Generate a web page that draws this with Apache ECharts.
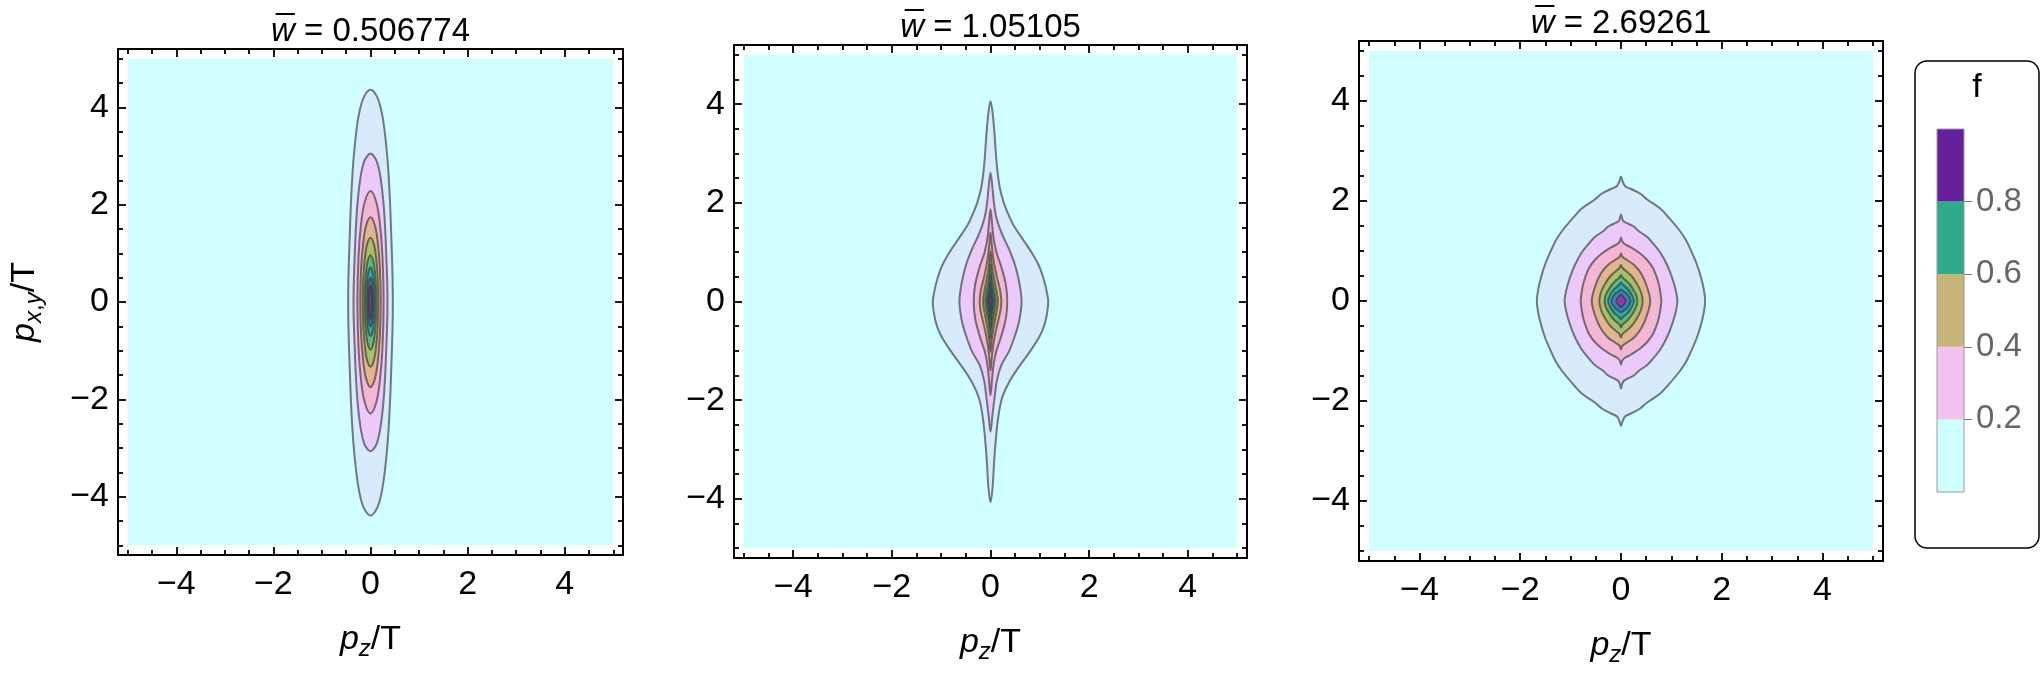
<!DOCTYPE html>
<html><head><meta charset="utf-8">
<script src="https://cdn.jsdelivr.net/npm/echarts@6/dist/echarts.min.js"></script>
<style>html,body{margin:0;padding:0;background:#fff}#c{width:2042px;height:680px}</style>
</head><body><div id="c"></div>
<script>
// ---------------- data ----------------
const titleValues = ['0.506774', '1.05105', '2.69261'];
const contourLevels = [0.1, 0.2, 0.3, 0.4, 0.5, 0.6, 0.7, 0.8, 0.9];
const levelColors = ['#D7EBFC', '#EBCAFA', '#F3B6D5', '#E1B590', '#A9BF69', '#60B980', '#2BAFA7', '#3E7EC6', '#8A40A0'];
const domainRange = [-5, 5];
const domainColor = '#D1FFFF';
const majorTicks = [-4, -2, 0, 2, 4];
const minorTicks = [-5, -4.5, -3.5, -3, -2.5, -1.5, -1, -0.5, 0.5, 1, 1.5, 2.5, 3, 3.5, 4.5, 5];
const legendBounds = [0, 0.2, 0.4, 0.6, 0.8, 1];
const legendColors = ['#D0FFFF', '#F4C2EE', '#C6B479', '#2FAA8C', '#651F9B'];
const legendTicks = [0.2, 0.4, 0.6, 0.8];

// right halves (pz >= 0) of each contour, from top tip to bottom tip: [pz, pxy]
const contoursW1 = [
  [[0,4.36],[0.1,4.28],[0.18,4.1],[0.25,3.8],[0.31,3.35],[0.36,2.8],[0.4,2.1],[0.43,1.3],[0.455,0.5],[0.46,0],[0.455,-0.5],[0.43,-1.3],[0.4,-2.1],[0.36,-2.8],[0.31,-3.35],[0.25,-3.8],[0.18,-4.12],[0.1,-4.3],[0,-4.39]],
  [[0,3.05],[0.076,2.99],[0.137,2.87],[0.19,2.66],[0.236,2.34],[0.274,1.96],[0.304,1.47],[0.327,0.91],[0.346,0.35],[0.35,0],[0.346,-0.35],[0.327,-0.91],[0.304,-1.47],[0.274,-1.96],[0.236,-2.35],[0.19,-2.67],[0.137,-2.89],[0.076,-3.01],[0,-3.07]],
  [[0,2.28],[0.12,2.05],[0.195,1.6],[0.248,0.91],[0.27,0],[0.248,-0.92],[0.195,-1.6],[0.12,-2.06],[0,-2.29]],
  [[0,1.74],[0.092,1.57],[0.15,1.22],[0.193,0.7],[0.21,0],[0.193,-0.7],[0.15,-1.22],[0.092,-1.57],[0,-1.75]],
  [[0,1.32],[0.07,1.19],[0.115,0.92],[0.147,0.53],[0.16,0],[0.147,-0.53],[0.115,-0.93],[0.07,-1.2],[0,-1.33]],
  [[0,0.96],[0.053,0.86],[0.086,0.67],[0.11,0.38],[0.12,0],[0.11,-0.39],[0.086,-0.68],[0.053,-0.88],[0,-0.98]],
  [[0,0.71],[0.037,0.64],[0.061,0.5],[0.078,0.28],[0.085,0],[0.078,-0.28],[0.061,-0.49],[0.037,-0.63],[0,-0.7]],
  [[0,0.5],[0.024,0.45],[0.039,0.35],[0.05,0.2],[0.055,0],[0.05,-0.2],[0.039,-0.35],[0.024,-0.45],[0,-0.5]],
  [[0,0.35],[0.013,0.31],[0.021,0.24],[0.028,0.14],[0.03,0],[0.028,-0.14],[0.021,-0.24],[0.013,-0.31],[0,-0.35]]
];
const contoursW2 = [
  [[0,4.06],[0.04,3.85],[0.08,3.42],[0.13,2.75],[0.19,2.3],[0.27,2.0],[0.37,1.75],[0.47,1.54],[0.65,1.27],[0.83,1.0],[0.98,0.73],[1.08,0.45],[1.14,0.2],[1.17,0],[1.15,-0.22],[1.1,-0.45],[1.01,-0.68],[0.83,-0.97],[0.6,-1.29],[0.38,-1.63],[0.23,-1.97],[0.15,-2.4],[0.1,-2.9],[0.07,-3.31],[0.04,-3.8],[0,-4.07]],
  [[0,2.61],[0.04,2.3],[0.07,2.0],[0.12,1.7],[0.22,1.4],[0.38,1.05],[0.5,0.73],[0.58,0.4],[0.62,0.15],[0.63,0],[0.62,-0.15],[0.58,-0.4],[0.52,-0.62],[0.38,-1.0],[0.22,-1.29],[0.13,-1.6],[0.08,-1.97],[0.04,-2.3],[0,-2.64]],
  [[0,1.87],[0.03,1.6],[0.06,1.3],[0.12,1.0],[0.22,0.7],[0.31,0.35],[0.34,0],[0.31,-0.35],[0.22,-0.7],[0.12,-1.0],[0.06,-1.3],[0.03,-1.6],[0,-1.9]],
  [[0,1.4],[0.025,1.15],[0.06,0.85],[0.13,0.5],[0.2,0.2],[0.22,0],[0.2,-0.2],[0.13,-0.5],[0.06,-0.85],[0.025,-1.15],[0,-1.4]],
  [[0,1.02],[0.02,0.82],[0.05,0.6],[0.1,0.33],[0.15,0],[0.1,-0.33],[0.05,-0.6],[0.02,-0.82],[0,-1.02]],
  [[0,0.75],[0.015,0.6],[0.035,0.43],[0.075,0.22],[0.105,0],[0.075,-0.22],[0.035,-0.43],[0.015,-0.6],[0,-0.75]],
  [[0,0.54],[0.012,0.43],[0.025,0.3],[0.05,0.15],[0.07,0],[0.05,-0.15],[0.025,-0.3],[0.012,-0.43],[0,-0.54]],
  [[0,0.36],[0.008,0.28],[0.017,0.2],[0.033,0.1],[0.045,0],[0.033,-0.1],[0.017,-0.2],[0.008,-0.28],[0,-0.36]],
  [[0,0.2],[0.005,0.16],[0.01,0.11],[0.019,0.05],[0.025,0],[0.019,-0.05],[0.01,-0.11],[0.005,-0.16],[0,-0.2]]
];
const contoursW3 = [
  [[0,2.49],[0.03,2.4],[0.08,2.3],[0.2,2.24],[0.38,2.15],[0.52,2.03],[0.78,1.85],[0.92,1.7],[1.17,1.4],[1.3,1.2],[1.38,1.03],[1.5,0.75],[1.58,0.5],[1.64,0.25],[1.67,0],[1.64,-0.25],[1.58,-0.5],[1.5,-0.75],[1.38,-1.03],[1.3,-1.2],[1.17,-1.4],[0.92,-1.7],[0.78,-1.85],[0.52,-2.03],[0.38,-2.15],[0.2,-2.25],[0.08,-2.31],[0.03,-2.41],[0,-2.5]],
  [[0,1.73],[0.02,1.66],[0.054,1.59],[0.134,1.55],[0.255,1.49],[0.35,1.4],[0.52,1.28],[0.62,1.17],[0.78,0.97],[0.92,0.71],[1.02,0.45],[1.09,0.2],[1.12,0],[1.09,-0.2],[1.02,-0.45],[0.92,-0.71],[0.78,-0.97],[0.62,-1.17],[0.52,-1.28],[0.35,-1.4],[0.255,-1.49],[0.134,-1.55],[0.054,-1.6],[0.02,-1.67],[0,-1.75]],
  [[0,1.27],[0.02,1.2],[0.07,1.14],[0.2,1.07],[0.38,0.95],[0.52,0.82],[0.64,0.65],[0.74,0.38],[0.78,0.18],[0.8,0],[0.78,-0.18],[0.74,-0.38],[0.64,-0.65],[0.52,-0.82],[0.38,-0.95],[0.2,-1.07],[0.07,-1.14],[0.02,-1.2],[0,-1.27]],
  [[0,0.95],[0.03,0.88],[0.12,0.82],[0.26,0.72],[0.4,0.55],[0.51,0.3],[0.58,0],[0.51,-0.3],[0.4,-0.55],[0.26,-0.73],[0.12,-0.83],[0.03,-0.89],[0,-0.97]],
  [[0,0.72],[0.03,0.66],[0.1,0.6],[0.21,0.5],[0.32,0.34],[0.4,0.17],[0.43,0],[0.4,-0.17],[0.32,-0.34],[0.21,-0.5],[0.1,-0.6],[0.03,-0.66],[0,-0.73]],
  [[0,0.52],[0.03,0.47],[0.09,0.42],[0.17,0.34],[0.25,0.22],[0.31,0.1],[0.325,0],[0.31,-0.1],[0.25,-0.22],[0.17,-0.34],[0.09,-0.42],[0.03,-0.47],[0,-0.53]],
  [[0,0.37],[0.03,0.33],[0.08,0.29],[0.15,0.22],[0.21,0.13],[0.245,0.05],[0.255,0],[0.245,-0.05],[0.21,-0.13],[0.15,-0.22],[0.08,-0.29],[0.03,-0.33],[0,-0.37]],
  [[0,0.23],[0.04,0.2],[0.1,0.16],[0.15,0.1],[0.18,0.04],[0.19,0],[0.18,-0.04],[0.15,-0.1],[0.1,-0.16],[0.04,-0.2],[0,-0.23]],
  [[0,0.13],[0.02,0.11],[0.05,0.08],[0.08,0.04],[0.09,0],[0.08,-0.04],[0.05,-0.08],[0.02,-0.11],[0,-0.13]]
];

// ---------------- layout / build ----------------
const FONT = "'Liberation Sans', Arial, Helvetica, sans-serif";
const FS = 34;
const panels = [
  { grid: { left: 118, top: 49, width: 505, height: 506 }, title: titleValues[0], contours: contoursW1, yName: true },
  { grid: { left: 734, top: 45, width: 513, height: 513 }, title: titleValues[1], contours: contoursW2, yName: false },
  { grid: { left: 1359, top: 41, width: 524, height: 520 }, title: titleValues[2], contours: contoursW3, yName: false }
];
const AX = [-5.2, 5.2];

function ring(half) {
  const left = half.slice(1, -1).reverse().map(p => [-p[0], p[1]]);
  return half.concat(left);
}
const fmt = v => (v < 0 ? '\u2212' + Math.abs(v) : String(v));
const nameRich = {
  i: { fontStyle: 'italic', fontSize: 34, lineHeight: 42, fontFamily: FONT, color: '#000' },
  s: { fontStyle: 'italic', fontSize: 24, lineHeight: 24, verticalAlign: 'bottom', fontFamily: FONT, color: '#000' },
  c: { fontSize: 24, lineHeight: 24, verticalAlign: 'bottom', fontFamily: FONT, color: '#000' },
  n: { fontSize: 34, lineHeight: 42, fontFamily: FONT, color: '#000' }
};

const grids = [], xAxes = [], yAxes = [], series = [], titles = [];
panels.forEach((P, gi) => {
  grids.push(Object.assign({ containLabel: false }, P.grid));
  const mk = (dim, pos, ticks, len, labels, line, extra) => Object.assign({
    type: 'value', gridIndex: gi, min: AX[0], max: AX[1], position: pos,
    axisLine: { show: line, onZero: false, lineStyle: { color: '#000', width: 2 } },
    axisTick: { show: true, inside: true, length: len, customValues: ticks, lineStyle: { color: '#000', width: 1.8 } },
    axisLabel: labels ? { show: true, customValues: majorTicks, formatter: fmt, color: '#000', fontSize: FS, fontFamily: FONT, margin: dim === 'x' ? 13 : 9 } : { show: false },
    splitLine: { show: false }
  }, extra || {});
  const base = xAxes.length;
  xAxes.push(mk('x', 'bottom', majorTicks, 8, true, true, {
    name: '{i|p}{s|z}{n|/T}', nameLocation: 'middle', nameGap: 64,
    nameTextStyle: { rich: nameRich }
  }));
  xAxes.push(mk('x', 'bottom', minorTicks, 5, false, false));
  xAxes.push(mk('x', 'top', majorTicks, 8, false, true));
  xAxes.push(mk('x', 'top', minorTicks, 5, false, false));
  yAxes.push(mk('y', 'left', majorTicks, 8, true, true, P.yName ? {
    name: '{i|p}{s|x}{c|,}{s|y}{n|/T}', nameLocation: 'middle', nameGap: 72, nameRotate: 90,
    nameTextStyle: { rich: nameRich }
  } : {}));
  yAxes.push(mk('y', 'left', minorTicks, 5, false, false));
  yAxes.push(mk('y', 'right', majorTicks, 8, false, true));
  yAxes.push(mk('y', 'right', minorTicks, 5, false, false));

  const rings = P.contours.map(ring);
  const data = [[-1]].concat(rings.map((r, k) => [k]));
  series.push({
    type: 'custom', xAxisIndex: base, yAxisIndex: base, clip: true, silent: true,
    data: data,
    renderItem: (params, api) => {
      const k = api.value(0);
      if (k < 0) {
        const a = api.coord([domainRange[0], domainRange[1]]);
        const b = api.coord([domainRange[1], domainRange[0]]);
        return { type: 'rect', shape: { x: a[0], y: a[1], width: b[0] - a[0], height: b[1] - a[1] }, style: { fill: domainColor } };
      }
      const pts = rings[k].map(p => api.coord(p));
      return { type: 'polygon', shape: { points: pts, smooth: 0.35 },
        style: { fill: levelColors[k], stroke: 'rgba(55,55,55,0.65)', lineWidth: 2 } };
    }
  });
  titles.push({
    text: '{w|w\u0305} = ' + P.title,
    left: P.grid.left + P.grid.width / 2, top: P.grid.top - 34, textAlign: 'center', padding: 0,
    textStyle: { fontSize: 33, fontFamily: FONT, fontWeight: 'normal', color: '#000',
      rich: { w: { fontStyle: 'italic', fontSize: 33, fontFamily: FONT, color: '#000' } } }
  });
});

// legend colour bar as its own grid
const lgi = grids.length;
grids.push({ left: 1937, top: 129, width: 27, height: 363 });
xAxes.push({ type: 'value', gridIndex: lgi, min: 0, max: 1, show: false });
yAxes.push({ type: 'value', gridIndex: lgi, min: 0, max: 1, position: 'right',
  axisLine: { show: false, onZero: false },
  axisTick: { show: true, inside: false, length: 8, customValues: legendTicks, lineStyle: { color: '#777', width: 1 } },
  axisLabel: { show: true, customValues: legendTicks, formatter: v => v.toFixed(1), color: '#666', fontSize: 33, fontFamily: FONT, margin: 12 },
  splitLine: { show: false } });
series.push({
  type: 'custom', xAxisIndex: xAxes.length - 1, yAxisIndex: yAxes.length - 1, silent: true,
  data: legendColors.map((c, k) => [k]).concat([[-1]]),
  renderItem: (params, api) => {
    const k = api.value(0);
    if (k < 0) {
      const a = api.coord([0, 1]), b = api.coord([1, 0]);
      return { type: 'rect', shape: { x: a[0], y: a[1], width: b[0] - a[0], height: b[1] - a[1] }, style: { fill: 'none', stroke: '#999', lineWidth: 1 } };
    }
    const a = api.coord([0, legendBounds[k + 1]]), b = api.coord([1, legendBounds[k]]);
    return { type: 'rect', shape: { x: a[0], y: a[1], width: b[0] - a[0], height: b[1] - a[1] }, style: { fill: legendColors[k] } };
  }
});

const chart = echarts.init(document.getElementById('c'), null, { renderer: 'canvas', width: 2042, height: 680 });
chart.setOption({
  backgroundColor: '#fff',
  animation: false,
  title: titles,
  grid: grids,
  xAxis: xAxes,
  yAxis: yAxes,
  series: series,
  graphic: [
    { type: 'rect', z: 0, shape: { x: 1915, y: 61, width: 124, height: 487, r: 12 }, style: { fill: '#fff', stroke: '#000', lineWidth: 1.5 } },
    { type: 'text', z: 1, x: 1977, y: 88, style: { text: 'f', font: '34px ' + FONT, fill: '#000', textAlign: 'center', textVerticalAlign: 'middle' } }
  ]
});
</script></body></html>
